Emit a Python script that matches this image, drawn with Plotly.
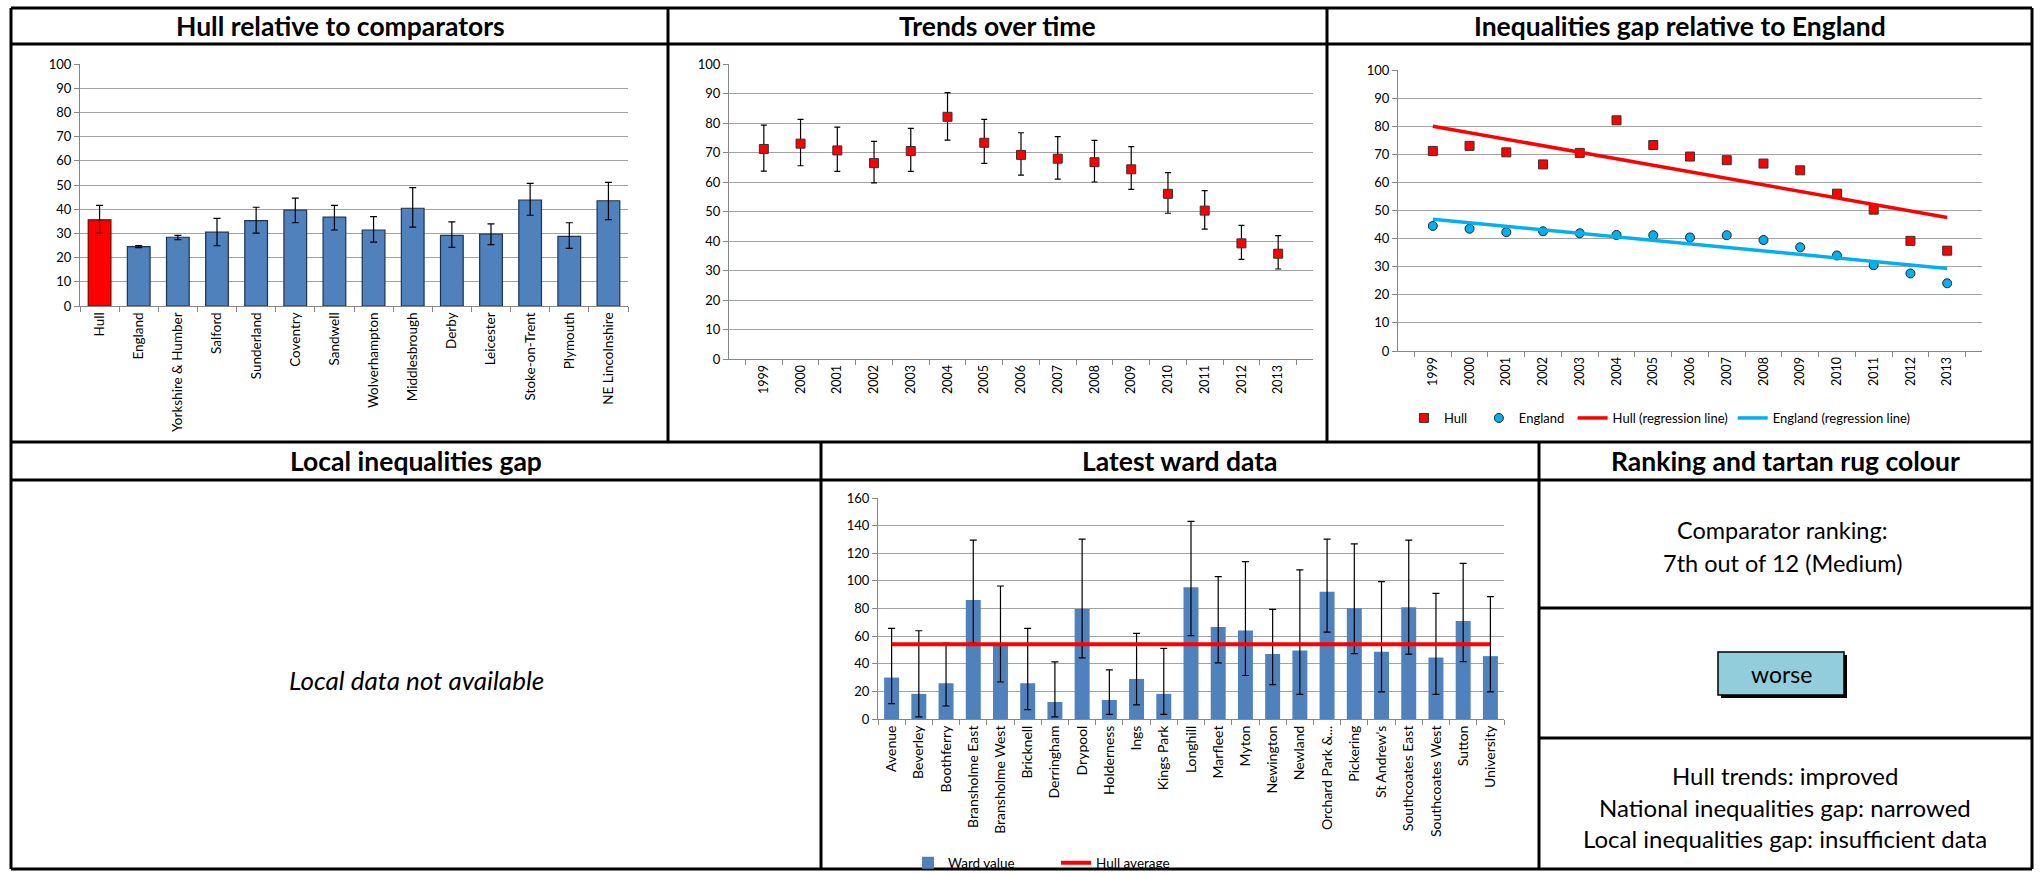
import plotly.graph_objects as go
import numpy as np

W, H = 2040, 873

# ---------------- data ----------------
comparators = ["Hull", "England", "Yorkshire & Humber", "Salford", "Sunderland", "Coventry",
               "Sandwell", "Wolverhampton", "Middlesbrough", "Derby", "Leicester",
               "Stoke-on-Trent", "Plymouth", "NE Lincolnshire"]
comp_values = [35.6, 24.5, 28.4, 30.5, 35.3, 39.6, 36.7, 31.4, 40.4, 29.2, 29.7, 43.8, 28.8, 43.5]
comp_upper = [41.6, 25.0, 29.2, 36.2, 40.8, 44.6, 41.6, 36.9, 48.9, 34.8, 33.9, 50.7, 34.4, 51.1]
comp_lower = [30.0, 24.1, 27.4, 24.9, 30.1, 34.4, 31.4, 26.4, 32.6, 24.2, 25.4, 37.5, 23.8, 35.7]

years = ["1999", "2000", "2001", "2002", "2003", "2004", "2005", "2006", "2007",
         "2008", "2009", "2010", "2011", "2012", "2013"]
hull_trend = [71.2, 73.0, 70.7, 66.4, 70.5, 82.1, 73.3, 69.2, 67.9, 66.7, 64.3, 56.0, 50.3, 39.2, 35.7]
hull_upper = [79.3, 81.2, 78.6, 73.8, 78.2, 90.3, 81.2, 76.7, 75.4, 74.1, 72.0, 63.2, 57.1, 45.3, 41.8]
hull_lower = [63.7, 65.5, 63.6, 59.7, 63.6, 74.2, 66.3, 62.3, 61.0, 60.0, 57.5, 49.4, 44.0, 33.8, 30.5]
england_trend = [44.5, 43.5, 42.3, 42.6, 41.9, 41.3, 41.2, 40.4, 41.2, 39.5, 36.9, 34.0, 30.5, 27.6, 24.1]

wards = ["Avenue", "Beverley", "Boothferry", "Bransholme East", "Bransholme West", "Bricknell",
         "Derringham", "Drypool", "Holderness", "Ings", "Kings Park", "Longhill", "Marfleet",
         "Myton", "Newington", "Newland", "Orchard Park &...", "Pickering", "St Andrew's",
         "Southcoates East", "Southcoates West", "Sutton", "University"]
ward_values = [30.0, 18.2, 25.9, 86.2, 53.5, 25.9, 12.3, 79.6, 13.8, 29.0, 18.2, 95.4, 66.6,
               64.1, 47.0, 49.6, 92.2, 80.1, 48.7, 80.9, 44.5, 70.9, 45.5]
ward_upper = [65.6, 63.9, 55.0, 129.5, 96.3, 65.6, 41.4, 130.2, 35.6, 62.0, 51.1, 143.1, 103.1,
              114.0, 79.4, 108.0, 130.2, 126.8, 99.5, 129.5, 91.0, 112.6, 88.6]
ward_lower = [11.1, 1.5, 9.4, 55.0, 26.8, 6.8, 1.5, 44.3, 3.4, 10.2, 3.4, 60.3, 40.7,
              31.5, 24.9, 17.9, 62.9, 47.4, 19.6, 47.0, 17.9, 41.6, 19.6]
hull_average = 54.2

# ---------------- helpers ----------------
def X(px):
    return px / W

def Y(py):
    return 1 - py / H

FONT = "Lato"
BLUE = "#4F81BD"
RED = "#FF0000"
CYAN = "#00B0F0"
GRID = "#a3a3a3"

fig = go.Figure()

# ---- Chart 1: Hull relative to comparators ----
fig.add_trace(go.Bar(
    x=comparators, y=comp_values, xaxis="x", yaxis="y", width=0.58,
    marker=dict(color=[RED] + [BLUE] * (len(comparators) - 1),
                line=dict(color=["#7a0000"] + ["#1f3350"] * (len(comparators) - 1), width=1.2)),
    error_y=dict(type="data", symmetric=False,
                 array=[u - v for u, v in zip(comp_upper, comp_values)],
                 arrayminus=[v - l for v, l in zip(comp_values, comp_lower)],
                 color="black", thickness=1.2, width=3.5),
    showlegend=False))

# ---- Chart 2: Trends over time ----
fig.add_trace(go.Scatter(
    x=years, y=hull_trend, xaxis="x2", yaxis="y2", mode="markers",
    marker=dict(symbol="square", size=9, color=RED, line=dict(color="#333", width=1)),
    error_y=dict(type="data", symmetric=False,
                 array=[u - v for u, v in zip(hull_upper, hull_trend)],
                 arrayminus=[v - l for v, l in zip(hull_trend, hull_lower)],
                 color="black", thickness=1.2, width=3),
    showlegend=False))

# ---- Chart 3: Inequalities gap relative to England ----
idx = np.arange(len(years))
hull_fit = np.polyval(np.polyfit(idx, hull_trend, 1), idx)
eng_fit = np.polyval(np.polyfit(idx, england_trend, 1), idx)

fig.add_trace(go.Scatter(
    x=years, y=hull_trend, xaxis="x3", yaxis="y3", mode="markers", name="Hull&nbsp;&nbsp;",
    marker=dict(symbol="square", size=9, color=RED, line=dict(color="#333", width=1)),
    legend="legend"))
fig.add_trace(go.Scatter(
    x=years, y=england_trend, xaxis="x3", yaxis="y3", mode="markers", name="England&nbsp;",
    marker=dict(symbol="circle", size=9, color=CYAN, line=dict(color="#222", width=1)),
    legend="legend"))
fig.add_trace(go.Scatter(
    x=years, y=hull_fit, xaxis="x3", yaxis="y3", mode="lines", name="Hull (regression line)",
    line=dict(color=RED, width=3.5), legend="legend"))
fig.add_trace(go.Scatter(
    x=years, y=eng_fit, xaxis="x3", yaxis="y3", mode="lines", name="England (regression line)",
    line=dict(color=CYAN, width=3.5), legend="legend"))

# ---- Chart 5: Latest ward data ----
fig.add_trace(go.Bar(
    x=wards, y=ward_values, xaxis="x4", yaxis="y4", width=0.55, name="Ward value",
    marker=dict(color=BLUE, line=dict(width=0)),
    error_y=dict(type="data", symmetric=False,
                 array=[u - v for u, v in zip(ward_upper, ward_values)],
                 arrayminus=[v - l for v, l in zip(ward_values, ward_lower)],
                 color="black", thickness=1.2, width=3.5),
    legend="legend2"))
fig.add_trace(go.Scatter(
    x=wards, y=[hull_average] * len(wards), xaxis="x4", yaxis="y4", mode="lines",
    name="Hull average", line=dict(color=RED, width=4), legend="legend2"))

# ---------------- axes ----------------
def xcat(domain, anchor, size):
    return dict(domain=domain, anchor=anchor, type="category", tickangle=-90,
                showgrid=False, showline=True, linecolor="#868686", linewidth=1,
                ticks="outside", tickson="boundaries", ticklen=5, tickcolor="#868686",
                tickfont=dict(family=FONT, size=size, color="black"), fixedrange=True,
                automargin=False)

def yval(domain, anchor, rng, dtick):
    return dict(domain=domain, anchor=anchor, range=rng, dtick=dtick,
                showgrid=True, gridcolor=GRID, gridwidth=1.3, zeroline=False,
                showline=True, linecolor="#868686", linewidth=1,
                ticks="outside", ticklen=5, tickcolor="#868686",
                tickfont=dict(family=FONT, size=13, color="black"), fixedrange=True,
                automargin=False)

layout = dict(
    width=W, height=H, margin=dict(l=0, r=0, t=0, b=0, autoexpand=False),
    paper_bgcolor="white", plot_bgcolor="white",
    font=dict(family=FONT, color="black"),
    xaxis=xcat([X(80), X(628)], "y", 13.5),
    yaxis=yval([Y(306), Y(64)], "x", [0, 100], 10),
    xaxis2=xcat([X(729), X(1313)], "y2", 12.5),
    yaxis2=yval([Y(359), Y(64)], "x2", [0, 100], 10),
    xaxis3=xcat([X(1398), X(1982)], "y3", 12.5),
    yaxis3=yval([Y(351), Y(70)], "x3", [0, 100], 10),
    xaxis4=xcat([X(878), X(1504)], "y4", 14),
    yaxis4=yval([Y(719), Y(498)], "x4", [0, 160], 20),
    legend=dict(orientation="h", x=X(1404), y=Y(418), xanchor="left", yanchor="middle",
                font=dict(family=FONT, size=13, color="black"), bgcolor="rgba(0,0,0,0)",
                itemclick=False, itemdoubleclick=False),
    legend2=dict(orientation="h", x=X(908), y=Y(863), xanchor="left", yanchor="middle",
                 font=dict(family=FONT, size=13.5, color="black"), bgcolor="rgba(0,0,0,0)",
                 itemclick=False, itemdoubleclick=False, entrywidth=103),
)
fig.update_layout(**layout)

# ---------------- borders ----------------
shapes = []

def hline(y, x0, x1, w=3):
    shapes.append(dict(type="line", xref="paper", yref="paper", x0=X(x0), x1=X(x1),
                       y0=Y(y), y1=Y(y), line=dict(color="black", width=w)))

def vline(x, y0, y1, w=3):
    shapes.append(dict(type="line", xref="paper", yref="paper", x0=X(x), x1=X(x),
                       y0=Y(y0), y1=Y(y1), line=dict(color="black", width=w)))

L, R, T, B = 11, 2032, 8, 869
hline(T, L, R)
hline(44, L, R)
hline(442, L, R)
hline(480, L, R)
hline(B, L, R)
hline(608, 1539, R)
hline(738, 1539, R)
vline(L, T, B)
vline(R, T, B)
vline(668, T, 442)
vline(1327, T, 442)
vline(821, 442, B)
vline(1539, 442, B)

# "worse" box with shadow
shapes.append(dict(type="rect", xref="paper", yref="paper", x0=X(1721), x1=X(1847),
                   y0=Y(698), y1=Y(655), fillcolor="black", line=dict(width=0)))
shapes.append(dict(type="rect", xref="paper", yref="paper", x0=X(1718), x1=X(1844),
                   y0=Y(695), y1=Y(652), fillcolor="#92CDDC", line=dict(color="black", width=1.5)))

fig.update_layout(shapes=shapes)

# ---------------- text ----------------
ann = []

def text(x, y, s, size, bold=False, italic=False):
    if bold:
        s = "<b>" + s + "</b>"
    if italic:
        s = "<i>" + s + "</i>"
    ann.append(dict(xref="paper", yref="paper", x=X(x), y=Y(y), text=s, showarrow=False,
                    xanchor="center", yanchor="middle",
                    font=dict(family=FONT, size=size, color="black")))

TS = 26.5
text(340, 26, "Hull relative to comparators", TS, bold=True)
text(997, 26, "Trends over time", TS, bold=True)
text(1680, 26, "Inequalities gap relative to England", TS, bold=True)
text(416, 461, "Local inequalities gap", TS, bold=True)
text(1180, 461, "Latest ward data", TS, bold=True)
text(1785, 461, "Ranking and tartan rug colour", TS, bold=True)

text(416, 680, "Local data not available", 26, italic=True)

text(1782, 530, "Comparator ranking:", 23.5)
text(1782, 563, "7th out of 12 (Medium)", 23.5)
text(1781, 674, "worse", 23)
text(1785, 775, "Hull trends: improved", 24)
text(1785, 807, "National inequalities gap: narrowed", 24)
text(1785, 838, "Local inequalities gap: insufficient data", 24)

fig.update_layout(annotations=ann)

fig.write_html("out.html")
